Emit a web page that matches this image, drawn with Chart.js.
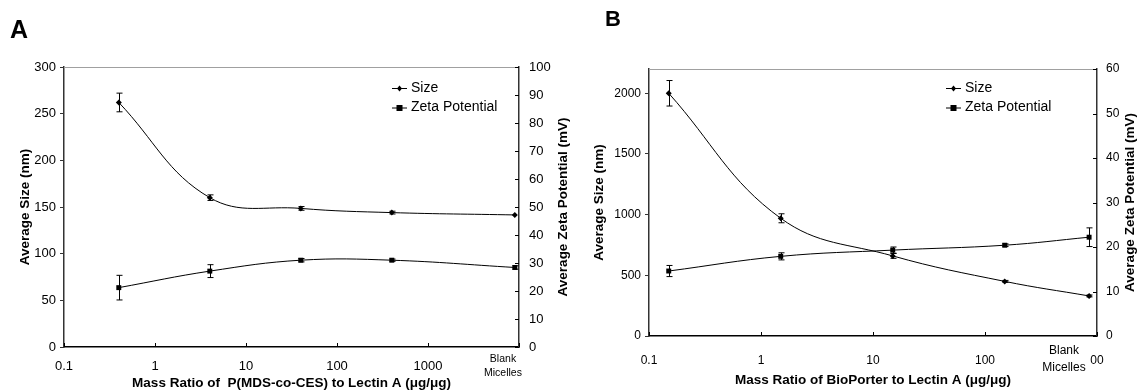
<!doctype html>
<html lang="en">
<head>
<meta charset="utf-8">
<title>Size and zeta potential vs mass ratio</title>
<style>
  body { margin: 0; background: #fff; }
  .panel { position: absolute; top: 0; height: 391px; }
  #boxA { left: 0; width: 570px; }
  #boxB { left: 575px; width: 565px; }
</style>
</head>
<body>
<div class="panel" id="boxA"><canvas id="chartA"></canvas></div>
<div class="panel" id="boxB"><canvas id="chartB"></canvas></div>
<script src="https://cdn.jsdelivr.net/npm/chart.js@4.4.1/dist/chart.umd.min.js"></script>
<script>
// panel A data
const ratioA = [0.4, 4, 40, 400, 9000];
const sizeA = [262, 160, 148.5, 144, 141.5];
const sizeErrA = [10, 3, 2, 1.5, 0];
const zetaA = [21.2, 27.1, 31.0, 31.0, 28.4];
const zetaErrA = [4.4, 2.3, 0.6, 0.4, 0.6];
const tickLabelsA = ['0.1', '1', '10', '100', '1000', ''];

// panel B data
const ratioB = [0.15, 1.5, 15, 150, 850];
const sizeB = [2000, 970, 660, 450, 330];
const sizeErrB = [105, 37, 20, 8, 8];
const zetaB = [14.6, 17.9, 19.3, 20.4, 22.2];
const zetaErrB = [1.25, 0.8, 0.7, 0.3, 2.1];
const tickLabelsB = ['0.1', '1', '10', '100', '00'];

const FONT = "'Liberation Sans', Arial, sans-serif";

// decorations: frame, inward ticks, error bars, titles, legend
const decor = {
  id: 'decor',
  afterDatasetsDraw(chart, args, o) {
    const { ctx, chartArea: { top, bottom, left, right }, scales: { x, y2 } } = chart;
    ctx.save();
    ctx.lineWidth = 1;
    ctx.strokeStyle = '#a0a0a0';
    ctx.beginPath();
    ctx.moveTo(left, top + 0.5);
    ctx.lineTo(right, top + 0.5);
    ctx.stroke();

    ctx.strokeStyle = '#000';
    ctx.beginPath();
    x.ticks.forEach(t => {
      const px = Math.round(x.getPixelForValue(t.value)) + 0.5;
      ctx.moveTo(px, bottom);
      ctx.lineTo(px, bottom - 4);
    });
    y2.ticks.forEach(t => {
      const py = Math.round(y2.getPixelForValue(t.value)) + 0.5;
      ctx.moveTo(right, py);
      ctx.lineTo(right - 4, py);
    });
    ctx.stroke();

    // error bars
    ctx.beginPath();
    chart.data.datasets.forEach((ds, i) => {
      const sc = chart.scales[ds.yAxisID];
      ds.data.forEach((p, j) => {
        const err = o.errors[i][j];
        if (!err) return;
        const px = Math.round(x.getPixelForValue(p.x)) + 0.5;
        const yHi = sc.getPixelForValue(p.y + err);
        const yLo = sc.getPixelForValue(p.y - err);
        ctx.moveTo(px, yHi); ctx.lineTo(px, yLo);
        ctx.moveTo(px - 3, yHi); ctx.lineTo(px + 3, yHi);
        ctx.moveTo(px - 3, yLo); ctx.lineTo(px + 3, yLo);
      });
    });
    ctx.stroke();

    ctx.fillStyle = '#000';
    // panel letter
    ctx.font = `bold ${o.letterSize}px ${FONT}`;
    ctx.textAlign = 'left';
    ctx.textBaseline = 'alphabetic';
    ctx.fillText(o.letter, o.letterX, o.letterY);

    // axis titles
    ctx.font = `bold 13.5px ${FONT}`;
    ctx.textAlign = 'center';
    ctx.textBaseline = 'middle';
    ctx.fillText(o.xTitle, (left + right) / 2, o.xTitleY);
    [[o.leftTitle, o.leftTitleX], [o.rightTitle, o.rightTitleX]].forEach(([txt, tx]) => {
      ctx.save();
      ctx.translate(tx, (top + bottom) / 2);
      ctx.rotate(-Math.PI / 2);
      ctx.fillText(txt, 0, 0);
      ctx.restore();
    });

    // blank micelles label
    ctx.font = `${o.blankSize}px ${FONT}`;
    ctx.fillText('Blank', o.blankX, o.blankY);
    ctx.fillText('Micelles', o.blankX, o.blankY + o.blankSize * 1.35);

    // legend
    ctx.font = `14px ${FONT}`;
    ctx.textAlign = 'left';
    chart.data.datasets.forEach((ds, i) => {
      const ly = o.legendY + i * 19.5;
      ctx.beginPath();
      ctx.moveTo(o.legendX, ly + 0.5);
      ctx.lineTo(o.legendX + 15, ly + 0.5);
      ctx.stroke();
      const s = i === 0 ? 2.5 : 3;
      ctx.beginPath();
      if (i === 0) {
        ctx.moveTo(o.legendX + 7.5, ly - s);
        ctx.lineTo(o.legendX + 7.5 + s, ly + 0.5);
        ctx.lineTo(o.legendX + 7.5, ly + s + 1);
        ctx.lineTo(o.legendX + 7.5 - s, ly + 0.5);
        ctx.closePath();
        ctx.fill();
      } else {
        ctx.fillRect(o.legendX + 7.5 - s, ly + 0.5 - s, 2 * s, 2 * s);
      }
      ctx.fillText(ds.label, o.legendX + 19, ly);
    });
    ctx.restore();
  }
};

function makePanel(id, p) {
  const pts = (xs, ys) => xs.map((v, i) => ({ x: v, y: ys[i] }));
  const plain = (v) => String(v);
  return new Chart(document.getElementById(id), {
    type: 'line',
    data: {
      datasets: [
        { label: 'Size', data: pts(p.ratio, p.size), yAxisID: 'y',
          borderColor: '#000', borderWidth: 1, tension: 0.4,
          pointStyle: 'rectRot', pointRadius: 3, pointBackgroundColor: '#000', pointBorderWidth: 0 },
        { label: 'Zeta Potential', data: pts(p.ratio, p.zeta), yAxisID: 'y2',
          borderColor: '#000', borderWidth: 1, tension: 0.4,
          pointStyle: 'rect', pointRadius: 3.5, pointBackgroundColor: '#000', pointBorderWidth: 0 }
      ]
    },
    options: {
      responsive: true,
      maintainAspectRatio: false,
      devicePixelRatio: 1,
      animation: false,
      clip: false,
      layout: { padding: { top: p.top, left: 0, right: 0, bottom: 0 } },
      plugins: {
        legend: { display: false },
        tooltip: { enabled: false },
        decor: p.decor
      },
      scales: {
        x: {
          type: 'logarithmic',
          min: p.xMin, max: p.xMax,
          afterBuildTicks: (s) => { s.ticks = p.decades.map(v => ({ value: v })); },
          afterFit: (s) => { s.height = p.xHeight; },
          grid: { display: false, drawTicks: false },
          border: { display: true, color: '#000', width: 1.5 },
          ticks: {
            autoSkip: false, maxRotation: 0, padding: p.xPad, color: '#000',
            font: { family: FONT, size: p.tickSize },
            callback: (v, i) => p.tickLabels[i]
          }
        },
        y: {
          position: 'left',
          min: 0, max: p.sizeMax,
          afterBuildTicks: (s) => { s.ticks = p.sizeTicks.map(v => ({ value: v })); },
          afterFit: (s) => { s.width = p.leftWidth; },
          grid: { drawOnChartArea: false, tickLength: 4, color: '#333' },
          border: { display: true, color: '#333', width: 1.5 },
          ticks: { padding: 4, color: '#000', font: { family: FONT, size: p.tickSize }, callback: plain }
        },
        y2: {
          position: 'right',
          min: 0, max: p.zetaMax,
          afterBuildTicks: (s) => { s.ticks = p.zetaTicks.map(v => ({ value: v })); },
          afterFit: (s) => { s.width = p.rightWidth; },
          grid: { display: false, drawTicks: false },
          border: { display: true, color: '#333', width: 1.5 },
          ticks: { padding: p.rPad, color: '#000', font: { family: FONT, size: p.tickSize }, callback: plain }
        }
      }
    },
    plugins: [decor]
  });
}

const range = (a, b, step) => { const r = []; for (let v = a; v <= b; v += step) r.push(v); return r; };

makePanel('chartA', {
  ratio: ratioA, size: sizeA, zeta: zetaA, tickLabels: tickLabelsA,
  xMin: 0.1, xMax: 10000, decades: [0.1, 1, 10, 100, 1000, 10000],
  sizeMax: 300, sizeTicks: range(0, 300, 50), zetaMax: 100, zetaTicks: range(0, 100, 10),
  top: 67, xHeight: 44, leftWidth: 64, rightWidth: 51, xPad: 12, rPad: 10, tickSize: 13,
  decor: {
    errors: [sizeErrA, zetaErrA], letter: 'A', letterSize: 25, letterX: 10, letterY: 38,
    xTitle: 'Mass Ratio of  P(MDS-co-CES) to Lectin A (\u03bcg/\u03bcg)', xTitleY: 383,
    leftTitle: 'Average Size (nm)', leftTitleX: 25,
    rightTitle: 'Average Zeta Potential (mV)', rightTitleX: 563,
    blankX: 503, blankY: 359, blankSize: 10.5, legendX: 392, legendY: 88
  }
});

makePanel('chartB', {
  ratio: ratioB, size: sizeB, zeta: zetaB, tickLabels: tickLabelsB,
  xMin: 0.1, xMax: 1000, decades: [0.1, 1, 10, 100, 1000],
  sizeMax: 2200, sizeTicks: range(0, 2000, 500), zetaMax: 60, zetaTicks: range(0, 60, 10),
  top: 69, xHeight: 55, leftWidth: 74, rightWidth: 43, xPad: 17, rPad: 9, tickSize: 12,
  decor: {
    errors: [sizeErrB, zetaErrB], letter: 'B', letterSize: 22, letterX: 30, letterY: 26,
    xTitle: 'Mass Ratio of BioPorter to Lectin A (\u03bcg/\u03bcg)', xTitleY: 380,
    leftTitle: 'Average Size (nm)', leftTitleX: 24,
    rightTitle: 'Average Zeta Potential (mV)', rightTitleX: 555,
    blankX: 489, blankY: 351, blankSize: 12, legendX: 371, legendY: 88
  }
});
</script>
</body>
</html>
